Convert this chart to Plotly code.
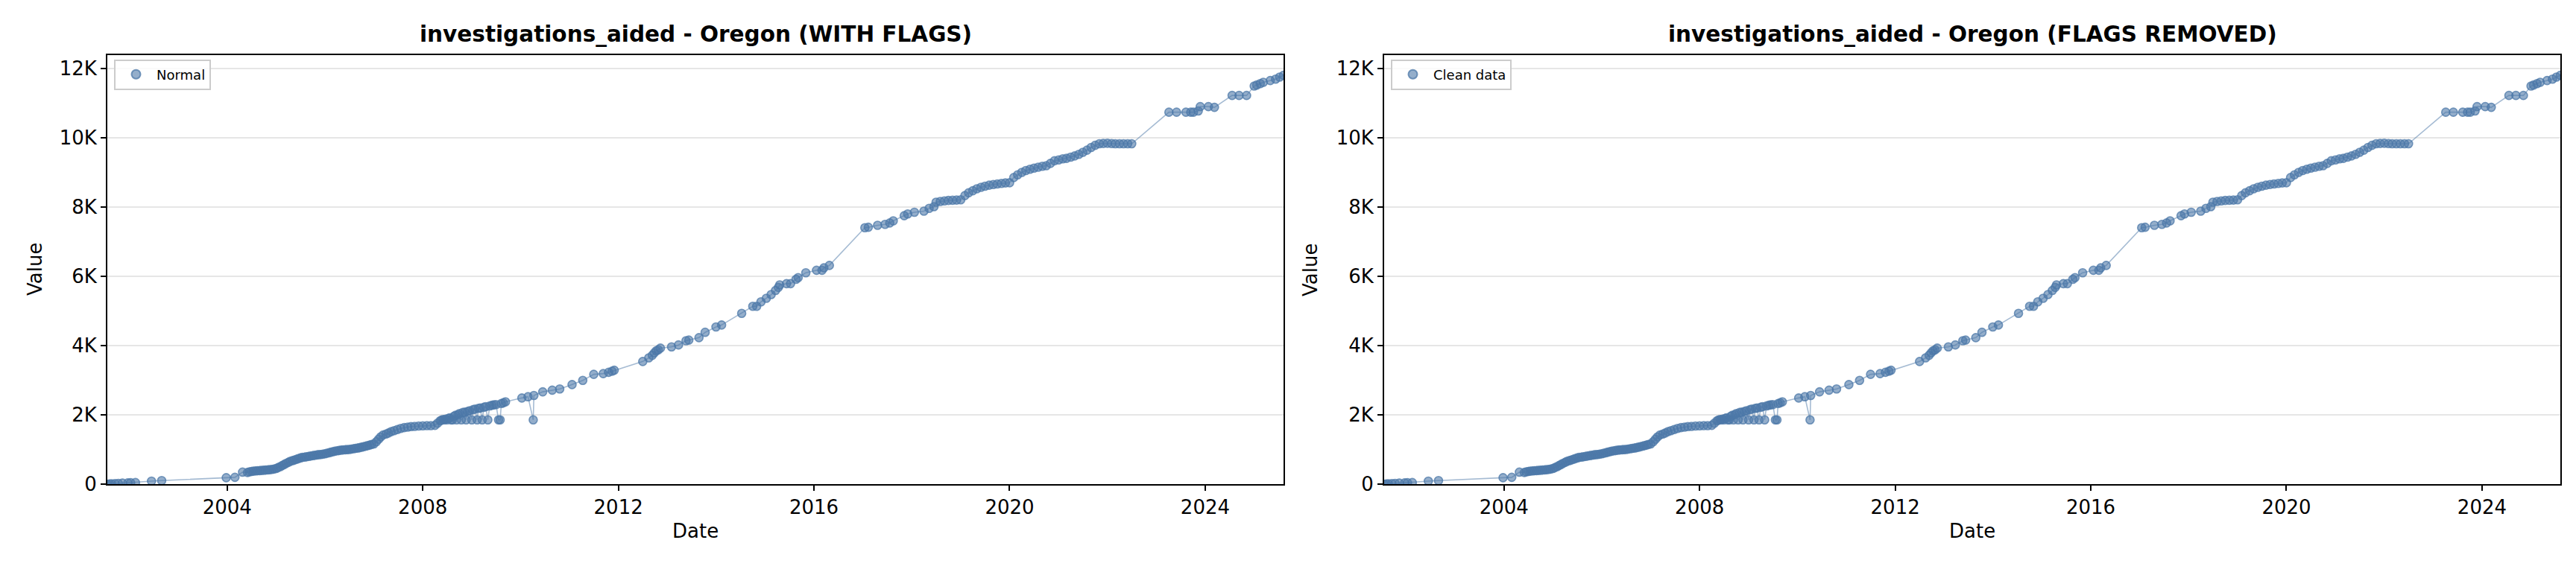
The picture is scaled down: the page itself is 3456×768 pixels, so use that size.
import plotly.graph_objects as go

# ---------------- data ----------------
dates = [
    "2001-07-20", "2001-08-05", "2001-08-20", "2001-09-15", "2001-10-10", "2001-11-10",
    "2001-12-20", "2002-01-10", "2002-02-15", "2002-06-15", "2002-08-30", "2003-12-25",
    "2004-02-28", "2004-04-25",
    "2004-06-01", "2004-06-15", "2004-07-01", "2004-07-15", "2004-08-01", "2004-08-15",
    "2004-09-01", "2004-09-15", "2004-10-01", "2004-10-15", "2004-11-01", "2004-11-15",
    "2004-12-01", "2004-12-15", "2005-01-01", "2005-01-15", "2005-02-01", "2005-02-15",
    "2005-03-01", "2005-03-15", "2005-04-01", "2005-04-15", "2005-05-01", "2005-05-15",
    "2005-06-01", "2005-06-15", "2005-07-01", "2005-07-15", "2005-08-01", "2005-08-15",
    "2005-09-01", "2005-09-15", "2005-10-01", "2005-10-15", "2005-11-01", "2005-11-15",
    "2005-12-01", "2005-12-15", "2006-01-01", "2006-01-15", "2006-02-01", "2006-02-15",
    "2006-03-01", "2006-03-15", "2006-04-01", "2006-04-15", "2006-05-01", "2006-05-15",
    "2006-06-01", "2006-06-15", "2006-07-01", "2006-07-15", "2006-08-01", "2006-08-15",
    "2006-09-01", "2006-09-15", "2006-10-01", "2006-10-15", "2006-11-01", "2006-11-15",
    "2006-12-01", "2006-12-15", "2007-01-01", "2007-01-20", "2007-02-05", "2007-02-20",
    "2007-03-10", "2007-04-01", "2007-04-20", "2007-05-10", "2007-06-01", "2007-06-25",
    "2007-07-20", "2007-08-15", "2007-09-10", "2007-10-05", "2007-11-01", "2007-12-01",
    "2008-01-01", "2008-02-01", "2008-03-01", "2008-04-01", "2008-04-20", "2008-05-10",
    "2008-05-20", "2008-06-01", "2008-06-10", "2008-06-20", "2008-07-01", "2008-07-10",
    "2008-07-20", "2008-08-01", "2008-08-10", "2008-08-20", "2008-09-01", "2008-09-10",
    "2008-09-20", "2008-10-01", "2008-10-15", "2008-10-25", "2008-11-10", "2008-11-20",
    "2008-12-01", "2008-12-15", "2009-01-01", "2009-01-10", "2009-01-25", "2009-02-10",
    "2009-02-20", "2009-03-05", "2009-03-20", "2009-04-01", "2009-04-15", "2009-05-01",
    "2009-05-15", "2009-06-01", "2009-06-15", "2009-07-01", "2009-07-20", "2009-08-01",
    "2009-08-10", "2009-08-25", "2009-09-10",
    "2010-01-10", "2010-02-25", "2010-04-05", "2010-04-10", "2010-06-15", "2010-08-25",
    "2010-10-20", "2011-01-20", "2011-04-10", "2011-07-01", "2011-09-10", "2011-10-20",
    "2011-11-15", "2011-12-01",
    "2012-07-01", "2012-08-15", "2012-09-10", "2012-09-25", "2012-10-10", "2012-10-25",
    "2012-11-10", "2013-02-01", "2013-03-25", "2013-05-20", "2013-06-10", "2013-08-25",
    "2013-10-10", "2013-12-30", "2014-02-10", "2014-07-10", "2014-10-01", "2014-10-30",
    "2014-12-01", "2015-01-10", "2015-02-15", "2015-03-20", "2015-04-10", "2015-04-20",
    "2015-06-10", "2015-07-10", "2015-08-20", "2015-09-05", "2015-11-01", "2016-01-20",
    "2016-03-01", "2016-03-15", "2016-04-25",
    "2017-01-15", "2017-02-10", "2017-04-20", "2017-06-15", "2017-07-20", "2017-08-15",
    "2017-11-05", "2017-12-01", "2018-01-20", "2018-04-01", "2018-05-10", "2018-06-15",
    "2018-07-01", "2018-08-01", "2018-09-01", "2018-10-01", "2018-11-01", "2018-12-01",
    "2019-01-01", "2019-02-01", "2019-03-01", "2019-04-01", "2019-05-01", "2019-06-01",
    "2019-07-01", "2019-08-01", "2019-09-01", "2019-10-01", "2019-11-01", "2019-12-01",
    "2020-01-01", "2020-02-01", "2020-03-01", "2020-04-01", "2020-05-01", "2020-06-01",
    "2020-07-01", "2020-08-01", "2020-09-01", "2020-10-01", "2020-11-01", "2020-12-01",
    "2021-01-01", "2021-02-01", "2021-03-01", "2021-04-01", "2021-05-01", "2021-06-01",
    "2021-07-01", "2021-08-01", "2021-09-01", "2021-10-01", "2021-11-01", "2021-12-01",
    "2022-01-01", "2022-02-01", "2022-03-01", "2022-04-01", "2022-05-01", "2022-06-01",
    "2022-07-01",
    "2023-04-05", "2023-06-01", "2023-08-10", "2023-09-15", "2023-10-05", "2023-11-10",
    "2023-11-25", "2024-01-25", "2024-03-10", "2024-07-20", "2024-09-10", "2024-11-05",
    "2025-01-01", "2025-01-20", "2025-02-15", "2025-03-10", "2025-05-01", "2025-06-10",
    "2025-07-10", "2025-08-08",
]

values = [
    0, 10, 15, 20, 25, 35,
    40, 45, 50, 90, 105, 190,
    200, 350,
    340, 360, 370, 380, 385, 390,
    395, 400, 405, 410, 415, 420,
    430, 440, 456, 480, 510, 540,
    570, 600, 630, 660, 680, 695,
    720, 740, 760, 775, 785, 795,
    805, 815, 825, 835, 845, 855,
    860, 870, 880, 895, 910, 925,
    940, 955, 965, 975, 985, 990,
    995, 1000, 1005, 1015, 1025, 1035,
    1045, 1055, 1070, 1085, 1100, 1115,
    1130, 1150, 1165, 1230, 1300, 1365,
    1420, 1450, 1480, 1520, 1545, 1580,
    1610, 1635, 1650, 1665, 1670, 1680,
    1685, 1690, 1690, 1700, 1760, 1830,
    1850, 1870, 1859, 1880, 1859, 1900,
    1915, 1859, 1859, 1960, 1990, 1859,
    2010, 2040, 1859, 2070, 2080, 1859,
    2100, 2120, 1859, 2150, 2170, 1859,
    2190, 2200, 1859, 2220, 2240, 1859,
    2260, 2280, 2290, 2300, 1859, 1859,
    2330, 2350, 2380,
    2490, 2526, 1859, 2561, 2667, 2715,
    2750, 2877, 2996, 3172, 3193, 3230,
    3263, 3290,
    3543, 3648, 3720, 3789, 3850, 3880,
    3929, 3964, 4020, 4140, 4160, 4231,
    4385, 4540, 4596, 4932, 5136, 5136,
    5263, 5368, 5473, 5593, 5680, 5753,
    5789, 5789, 5915, 5964, 6104, 6175,
    6175, 6245, 6315,
    7403, 7417, 7473, 7500, 7540, 7600,
    7750, 7800, 7850, 7880, 7960, 8010,
    8140, 8160, 8175, 8190, 8195, 8200,
    8210, 8330, 8410, 8470, 8526, 8570,
    8600, 8630, 8650, 8666, 8680, 8695,
    8701, 8850, 8930, 9000, 9053, 9090,
    9123, 9150, 9175, 9193, 9260, 9334,
    9360, 9390, 9404, 9440, 9474, 9520,
    9579, 9640, 9720, 9780, 9825, 9835,
    9839, 9830, 9825, 9825, 9825, 9825,
    9825,
    10736, 10736, 10736, 10736, 10736, 10771,
    10897, 10897, 10877, 11220, 11220, 11220,
    11490, 11520, 11560, 11600, 11650, 11690,
    11750, 11800,
]

panel_titles = ["investigations_aided - Oregon (WITH FLAGS)",
                "investigations_aided - Oregon (FLAGS REMOVED)"]
legend_names = ["Normal", "Clean data"]
y_tick_vals = [0, 2000, 4000, 6000, 8000, 10000, 12000]
y_tick_text = ["0", "2K", "4K", "6K", "8K", "10K", "12K"]

# ---------------- style ----------------
W, H = 3456, 768
FONT = "DejaVu Sans"

def px_x(p):
    return p / W

def px_y(p):
    return 1 - p / H

domains_x = [[px_x(136), px_x(1714)], [px_x(1849), px_x(3427)]]
domain_y = [px_y(655), px_y(67)]

fig = go.Figure()
xr = [min(dates), max(dates)]
yr = [0, max(values) * 1.05]

for i in range(2):
    xa = "x" if i == 0 else "x2"
    ya = "y" if i == 0 else "y2"
    lg = "legend" if i == 0 else "legend2"
    fig.add_trace(go.Scatter(
        x=dates, y=values, mode="lines", xaxis=xa, yaxis=ya,
        line=dict(color="rgba(76,120,168,0.5)", width=1.6),
        showlegend=False, hoverinfo="skip"))
    fig.add_trace(go.Scatter(
        x=dates, y=values, mode="markers", xaxis=xa, yaxis=ya,
        name=legend_names[i], legend=lg,
        marker=dict(size=11, color="rgba(76,120,168,0.6)",
                    line=dict(color="rgba(76,120,168,0.75)", width=1.6))))

axis_common = dict(showline=True, linecolor="black", linewidth=2, mirror=True,
                   ticks="outside", ticklen=7, tickwidth=2, tickcolor="black",
                   tickfont=dict(family=FONT, size=26, color="black"),
                   zeroline=False)

for i in range(2):
    sfx = "" if i == 0 else "2"
    fig.layout["xaxis" + sfx] = dict(
        domain=domains_x[i], anchor="y" + sfx, type="date", range=xr,
        tick0="2004-01-01", dtick="M48", tickformat="%Y", showgrid=False,
        **axis_common)
    fig.layout["yaxis" + sfx] = dict(
        domain=domain_y, anchor="x" + sfx, range=yr,
        tickvals=y_tick_vals, ticktext=y_tick_text,
        showgrid=True, gridcolor="#e6e6e6", gridwidth=2,
        **axis_common)

    cx = (domains_x[i][0] + domains_x[i][1]) / 2
    fig.add_annotation(text="<b>" + panel_titles[i] + "</b>", x=cx, y=px_y(39),
                       xref="paper", yref="paper", showarrow=False,
                       xanchor="center", yanchor="middle",
                       font=dict(family=FONT, size=29.5, color="black"))
    fig.add_annotation(text="Date", x=cx, y=px_y(719),
                       xref="paper", yref="paper", showarrow=False,
                       xanchor="center", yanchor="middle",
                       font=dict(family=FONT, size=26, color="black"))
    vx = 39 if i == 0 else 1750
    fig.add_annotation(text="Value", x=px_x(vx), y=px_y(361), textangle=-90,
                       xref="paper", yref="paper", showarrow=False,
                       xanchor="center", yanchor="middle",
                       font=dict(family=FONT, size=26, color="black"))

leg_common = dict(bgcolor="rgba(255,255,255,0.8)", bordercolor="#cccccc", borderwidth=2,
                  font=dict(family=FONT, size=18, color="black"),
                  xanchor="left", yanchor="top", itemsizing="constant",
                  itemwidth=45, tracegroupgap=0)
fig.update_layout(
    width=W, height=H,
    margin=dict(l=0, r=0, t=0, b=0),
    paper_bgcolor="white", plot_bgcolor="white",
    legend=dict(x=px_x(145), y=px_y(73), **leg_common),
    legend2=dict(x=px_x(1858), y=px_y(73), **leg_common),
)

fig.write_html("out.html")
